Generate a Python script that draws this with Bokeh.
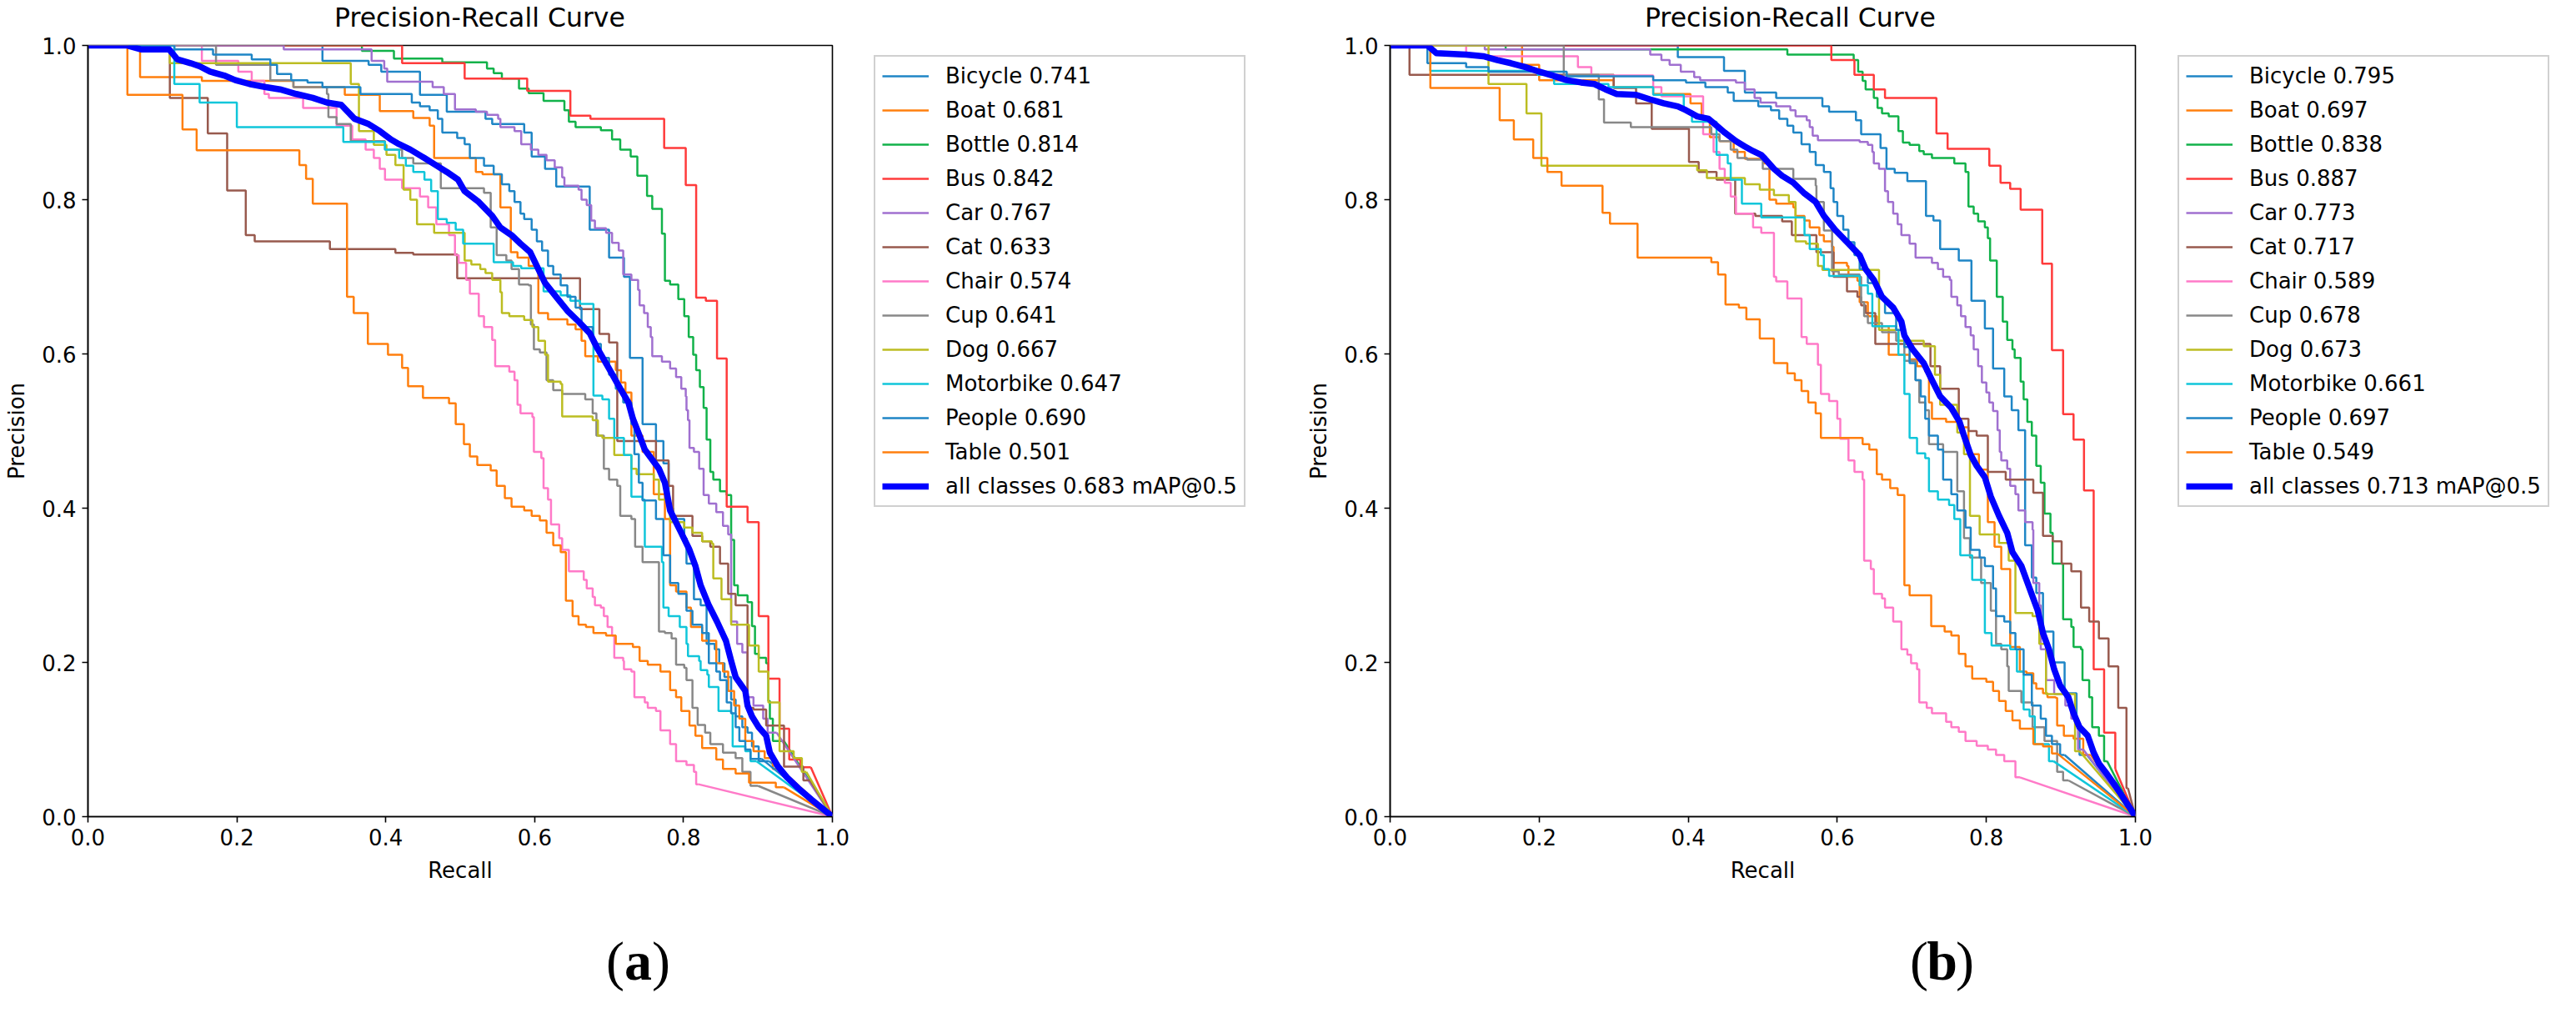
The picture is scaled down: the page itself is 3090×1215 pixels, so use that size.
from bokeh.plotting import figure
from bokeh.models import Legend, LegendItem, Label, PrintfTickFormatter, ColumnDataSource
from bokeh.layouts import row, column
from bokeh.embed import file_html
from bokeh.resources import INLINE

# ---------------- data ----------------
CLASSES = ["Bicycle", "Boat", "Bottle", "Bus", "Car", "Cat", "Chair", "Cup",
           "Dog", "Motorbike", "People", "Table"]
A_AP = [0.741, 0.681, 0.814, 0.842, 0.767, 0.633, 0.574, 0.641, 0.667, 0.647, 0.690, 0.501]
A_MAP = 0.683
B_AP = [0.795, 0.697, 0.838, 0.887, 0.773, 0.717, 0.589, 0.678, 0.673, 0.661, 0.697, 0.549]
B_MAP = 0.713
COLORS = ["#1f86c6", "#ff7f0e", "#12b24a", "#ff3b3b", "#a070d0", "#985a4e",
          "#ff7ac8", "#888888", "#bcbd22", "#10c6da", "#1f86c6", "#ff7f0e"]
ALL_COLOR = "#0000ff"
TICKS = [0.0, 0.2, 0.4, 0.6, 0.8, 1.0]
TITLE = "Precision-Recall Curve"

# (recall, precision) pairs, panel (a)
A_BICYCLE = [(0, 1.0), (0.315, 0.980), (0.377, 0.975), (0.394, 0.966), (0.446, 0.936), (0.482, 0.914),
             (0.534, 0.905), (0.543, 0.898), (0.586, 0.887), (0.596, 0.856), (0.614, 0.840), (0.629, 0.817),
             (0.674, 0.761), (0.700, 0.725), (0.720, 0.700), (0.728, 0.595), (0.745, 0.509), (0.763, 0.487),
             (0.773, 0.458), (0.780, 0.400), (0.786, 0.386), (0.801, 0.361), (0.804, 0.328), (0.814, 0.282),
             (0.823, 0.274), (0.831, 0.224), (0.842, 0.217), (0.848, 0.199), (0.855, 0.181), (0.864, 0.152),
             (0.870, 0.130), (0.879, 0.116), (0.886, 0.109), (0.892, 0.091), (0.901, 0.072), (0.915, 0.072),
             (1.0, 0.0)]
A_BOAT = [(0, 1.0), (0.070, 0.959), (0.153, 0.954), (0.276, 0.946), (0.345, 0.936), (0.392, 0.915),
          (0.437, 0.906), (0.459, 0.896), (0.465, 0.854), (0.521, 0.836), (0.530, 0.833), (0.554, 0.790),
          (0.568, 0.732), (0.577, 0.725), (0.592, 0.714), (0.605, 0.653), (0.618, 0.645), (0.644, 0.638),
          (0.655, 0.632), (0.663, 0.617), (0.668, 0.597), (0.685, 0.590), (0.709, 0.579), (0.716, 0.563),
          (0.722, 0.550), (0.730, 0.494), (0.745, 0.473), (0.760, 0.418), (0.775, 0.386), (0.782, 0.300),
          (0.790, 0.292), (0.804, 0.271), (0.810, 0.246), (0.825, 0.228), (0.844, 0.199), (0.853, 0.188),
          (0.860, 0.163), (0.868, 0.144), (0.875, 0.127), (0.883, 0.098), (0.894, 0.085), (0.909, 0.076),
          (0.920, 0.062), (0.930, 0.062), (1.0, 0.0)]
A_BOTTLE = [(0, 1.0), (0.368, 0.993), (0.411, 0.983), (0.476, 0.978), (0.536, 0.970), (0.545, 0.964),
            (0.556, 0.957), (0.579, 0.944), (0.592, 0.938), (0.612, 0.928), (0.640, 0.916), (0.646, 0.901),
            (0.655, 0.894), (0.689, 0.890), (0.704, 0.878), (0.715, 0.865), (0.729, 0.856), (0.738, 0.831),
            (0.751, 0.805), (0.758, 0.788), (0.771, 0.756), (0.775, 0.695), (0.782, 0.690), (0.793, 0.671),
            (0.801, 0.649), (0.807, 0.622), (0.813, 0.599), (0.817, 0.579), (0.822, 0.557), (0.827, 0.530),
            (0.831, 0.489), (0.836, 0.447), (0.840, 0.437), (0.849, 0.422), (0.858, 0.417), (0.864, 0.359),
            (0.868, 0.300), (0.873, 0.287), (0.886, 0.278), (0.892, 0.247), (0.896, 0.211), (0.901, 0.206),
            (0.911, 0.199), (0.914, 0.150), (0.916, 0.127), (0.920, 0.098), (0.935, 0.098), (1.0, 0.0)]
A_BUS = [(0, 1.0), (0.422, 0.977), (0.506, 0.957), (0.590, 0.941), (0.648, 0.909), (0.675, 0.905),
         (0.774, 0.867), (0.803, 0.819), (0.817, 0.673), (0.830, 0.669), (0.845, 0.594), (0.858, 0.402),
         (0.886, 0.382), (0.901, 0.260), (0.914, 0.179), (0.929, 0.114), (0.942, 0.074), (0.957, 0.064),
         (0.971, 0.064), (1.0, 0.0)]
A_CAR = [(0, 1.0), (0.263, 0.995), (0.381, 0.980), (0.398, 0.970), (0.402, 0.953), (0.463, 0.946),
         (0.478, 0.937), (0.493, 0.917), (0.521, 0.914), (0.536, 0.910), (0.551, 0.905), (0.554, 0.894),
         (0.573, 0.889), (0.582, 0.872), (0.595, 0.865), (0.605, 0.858), (0.616, 0.851), (0.627, 0.842),
         (0.637, 0.829), (0.640, 0.818), (0.659, 0.813), (0.663, 0.800), (0.670, 0.793), (0.676, 0.773),
         (0.681, 0.763), (0.696, 0.757), (0.704, 0.744), (0.713, 0.734), (0.719, 0.703), (0.730, 0.696),
         (0.739, 0.683), (0.741, 0.663), (0.747, 0.653), (0.752, 0.635), (0.756, 0.622), (0.758, 0.597),
         (0.771, 0.590), (0.782, 0.581), (0.790, 0.570), (0.797, 0.555), (0.803, 0.545), (0.804, 0.527),
         (0.806, 0.514), (0.808, 0.478), (0.814, 0.473), (0.821, 0.451), (0.827, 0.417), (0.834, 0.406),
         (0.844, 0.395), (0.853, 0.377), (0.860, 0.366), (0.864, 0.253), (0.872, 0.224), (0.879, 0.213),
         (0.886, 0.155), (0.894, 0.144), (0.907, 0.127), (0.913, 0.109), (0.925, 0.109), (1.0, 0.0)]
A_CAT = [(0, 1.0), (0.110, 0.932), (0.161, 0.886), (0.187, 0.812), (0.212, 0.754), (0.224, 0.746),
         (0.325, 0.736), (0.413, 0.731), (0.437, 0.729), (0.496, 0.698), (0.661, 0.658), (0.687, 0.626),
         (0.700, 0.615), (0.711, 0.487), (0.763, 0.462), (0.780, 0.429), (0.786, 0.390), (0.812, 0.364),
         (0.825, 0.357), (0.836, 0.350), (0.849, 0.328), (0.860, 0.289), (0.870, 0.274), (0.886, 0.141),
         (0.894, 0.139), (0.911, 0.118), (0.935, 0.065), (0.961, 0.047), (0.970, 0.047), (1.0, 0.0)]
A_CHAIR = [(0, 1.0), (0.153, 0.980), (0.202, 0.966), (0.220, 0.954), (0.237, 0.937), (0.243, 0.932),
           (0.289, 0.919), (0.334, 0.896), (0.355, 0.878), (0.373, 0.865), (0.384, 0.854), (0.392, 0.840),
           (0.399, 0.826), (0.422, 0.815), (0.446, 0.804), (0.457, 0.790), (0.468, 0.768), (0.485, 0.754),
           (0.493, 0.728), (0.498, 0.718), (0.508, 0.696), (0.513, 0.678), (0.525, 0.649), (0.532, 0.635),
           (0.543, 0.618), (0.547, 0.584), (0.566, 0.577), (0.573, 0.566), (0.577, 0.534), (0.581, 0.523),
           (0.597, 0.518), (0.599, 0.473), (0.609, 0.465), (0.612, 0.426), (0.618, 0.411), (0.622, 0.379),
           (0.633, 0.361), (0.637, 0.346), (0.646, 0.318), (0.666, 0.307), (0.670, 0.296), (0.678, 0.285),
           (0.681, 0.274), (0.689, 0.271), (0.693, 0.260), (0.698, 0.246), (0.704, 0.235), (0.707, 0.206),
           (0.719, 0.202), (0.720, 0.191), (0.730, 0.188), (0.734, 0.155), (0.748, 0.148), (0.752, 0.141),
           (0.763, 0.137), (0.769, 0.112), (0.782, 0.094), (0.790, 0.072), (0.804, 0.067), (0.814, 0.058),
           (0.817, 0.042), (0.820, 0.042), (1.0, 0.0)]
A_CUP = [(0, 1.0), (0.172, 0.975), (0.245, 0.955), (0.276, 0.946), (0.321, 0.937), (0.323, 0.907),
         (0.334, 0.898), (0.353, 0.876), (0.399, 0.865), (0.422, 0.854), (0.437, 0.847), (0.474, 0.815),
         (0.532, 0.809), (0.541, 0.764), (0.549, 0.728), (0.562, 0.721), (0.569, 0.710), (0.579, 0.690),
         (0.592, 0.689), (0.595, 0.638), (0.599, 0.606), (0.607, 0.602), (0.616, 0.566), (0.625, 0.553),
         (0.637, 0.548), (0.668, 0.541), (0.678, 0.523), (0.683, 0.494), (0.693, 0.451), (0.700, 0.437),
         (0.711, 0.429), (0.715, 0.390), (0.730, 0.386), (0.735, 0.350), (0.745, 0.330), (0.767, 0.240),
         (0.775, 0.238), (0.784, 0.231), (0.790, 0.197), (0.801, 0.193), (0.804, 0.177), (0.812, 0.141),
         (0.819, 0.119), (0.829, 0.109), (0.836, 0.094), (0.853, 0.083), (0.870, 0.076), (0.879, 0.058),
         (0.890, 0.040), (0.900, 0.040), (1.0, 0.0)]
A_DOG = [(0, 1.0), (0.110, 0.977), (0.353, 0.950), (0.364, 0.889), (0.384, 0.871), (0.401, 0.858),
         (0.413, 0.845), (0.424, 0.813), (0.433, 0.800), (0.442, 0.768), (0.465, 0.757), (0.506, 0.721),
         (0.515, 0.716), (0.527, 0.710), (0.534, 0.705), (0.543, 0.696), (0.554, 0.680), (0.556, 0.653),
         (0.566, 0.649), (0.586, 0.644), (0.597, 0.635), (0.605, 0.617), (0.614, 0.599), (0.618, 0.564),
         (0.635, 0.561), (0.637, 0.519), (0.678, 0.514), (0.685, 0.494), (0.691, 0.491), (0.707, 0.469),
         (0.730, 0.451), (0.737, 0.444), (0.760, 0.437), (0.767, 0.411), (0.782, 0.382), (0.801, 0.375),
         (0.812, 0.368), (0.825, 0.357), (0.838, 0.354), (0.840, 0.309), (0.851, 0.282), (0.864, 0.249),
         (0.888, 0.222), (0.901, 0.188), (0.914, 0.148), (0.929, 0.085), (0.948, 0.076), (0.959, 0.058),
         (0.965, 0.058), (1.0, 0.0)]
A_MOTORBIKE = [(0, 1.0), (0.116, 0.950), (0.150, 0.926), (0.200, 0.894), (0.343, 0.875), (0.399, 0.865),
               (0.418, 0.854), (0.427, 0.844), (0.437, 0.836), (0.452, 0.826), (0.461, 0.811), (0.470, 0.775),
               (0.482, 0.770), (0.494, 0.761), (0.504, 0.743), (0.545, 0.719), (0.571, 0.714), (0.582, 0.711),
               (0.612, 0.681), (0.635, 0.676), (0.648, 0.669), (0.661, 0.665), (0.679, 0.546), (0.691, 0.541),
               (0.700, 0.516), (0.707, 0.491), (0.720, 0.469), (0.730, 0.415), (0.745, 0.411), (0.748, 0.350),
               (0.771, 0.330), (0.773, 0.271), (0.780, 0.260), (0.795, 0.246), (0.804, 0.224), (0.806, 0.208),
               (0.821, 0.202), (0.823, 0.190), (0.832, 0.184), (0.834, 0.168), (0.847, 0.137), (0.864, 0.134),
               (0.866, 0.091), (0.883, 0.085), (0.890, 0.072), (0.898, 0.072), (1.0, 0.0)]
A_PEOPLE = [(0, 1.0), (0.116, 0.995), (0.168, 0.988), (0.220, 0.982), (0.245, 0.975), (0.254, 0.963),
            (0.273, 0.955), (0.295, 0.952), (0.315, 0.946), (0.366, 0.937), (0.435, 0.926), (0.446, 0.921),
            (0.459, 0.916), (0.470, 0.905), (0.476, 0.887), (0.496, 0.880), (0.506, 0.872), (0.513, 0.854),
            (0.532, 0.844), (0.545, 0.833), (0.556, 0.820), (0.566, 0.811), (0.573, 0.797), (0.581, 0.782),
            (0.586, 0.775), (0.596, 0.761), (0.603, 0.746), (0.610, 0.734), (0.618, 0.714), (0.625, 0.703),
            (0.635, 0.689), (0.644, 0.674), (0.655, 0.660), (0.663, 0.635), (0.678, 0.613), (0.689, 0.595),
            (0.700, 0.573), (0.709, 0.555), (0.719, 0.537), (0.730, 0.509), (0.734, 0.470), (0.740, 0.433),
            (0.745, 0.410), (0.763, 0.386), (0.773, 0.339), (0.782, 0.303), (0.793, 0.289), (0.804, 0.267),
            (0.812, 0.249), (0.825, 0.238), (0.834, 0.199), (0.844, 0.188), (0.849, 0.177), (0.858, 0.148),
            (0.864, 0.134), (0.870, 0.116), (0.875, 0.098), (0.883, 0.087), (0.890, 0.075), (0.905, 0.075),
            (1.0, 0.0)]
A_TABLE = [(0, 1.0), (0.053, 0.936), (0.127, 0.891), (0.146, 0.864), (0.284, 0.845), (0.293, 0.827),
           (0.302, 0.795), (0.348, 0.674), (0.357, 0.653), (0.376, 0.613), (0.403, 0.599), (0.422, 0.582),
           (0.430, 0.558), (0.450, 0.543), (0.485, 0.536), (0.494, 0.509), (0.505, 0.483), (0.513, 0.467),
           (0.523, 0.456), (0.541, 0.449), (0.549, 0.429), (0.560, 0.413), (0.569, 0.402), (0.586, 0.397),
           (0.596, 0.390), (0.607, 0.384), (0.616, 0.368), (0.625, 0.352), (0.635, 0.343), (0.642, 0.280),
           (0.651, 0.260), (0.659, 0.249), (0.669, 0.246), (0.679, 0.238), (0.696, 0.235), (0.709, 0.224),
           (0.732, 0.220), (0.741, 0.202), (0.752, 0.197), (0.769, 0.188), (0.782, 0.164), (0.790, 0.155),
           (0.797, 0.137), (0.808, 0.118), (0.816, 0.105), (0.825, 0.089), (0.844, 0.074), (0.853, 0.062),
           (0.870, 0.056), (0.888, 0.044), (0.924, 0.038), (0.935, 0.038), (1.0, 0.0)]
A_ALL = [(0, 1.0), (0.052, 1.0), (0.071, 0.995), (0.109, 0.995), (0.120, 0.982), (0.138, 0.977),
         (0.150, 0.973), (0.164, 0.966), (0.183, 0.961), (0.198, 0.955), (0.217, 0.950), (0.239, 0.946),
         (0.258, 0.943), (0.280, 0.937), (0.302, 0.932), (0.321, 0.926), (0.340, 0.923), (0.347, 0.916),
         (0.358, 0.905), (0.377, 0.898), (0.392, 0.889), (0.407, 0.878), (0.418, 0.872), (0.433, 0.865),
         (0.452, 0.854), (0.467, 0.845), (0.482, 0.836), (0.497, 0.826), (0.506, 0.811), (0.525, 0.797),
         (0.543, 0.779), (0.554, 0.764), (0.569, 0.754), (0.581, 0.743), (0.594, 0.732), (0.603, 0.714),
         (0.614, 0.692), (0.629, 0.674), (0.644, 0.656), (0.659, 0.642), (0.674, 0.627), (0.685, 0.606),
         (0.700, 0.581), (0.715, 0.555), (0.726, 0.537), (0.732, 0.516), (0.741, 0.494), (0.748, 0.476),
         (0.767, 0.451), (0.775, 0.433), (0.782, 0.397), (0.797, 0.368), (0.808, 0.346), (0.816, 0.325),
         (0.823, 0.300), (0.834, 0.274), (0.845, 0.253), (0.857, 0.228), (0.864, 0.202), (0.870, 0.181),
         (0.883, 0.163), (0.886, 0.144), (0.892, 0.130), (0.901, 0.116), (0.911, 0.105), (0.916, 0.083),
         (0.927, 0.065), (0.939, 0.051), (0.954, 0.037), (0.972, 0.022), (1.0, 0.0)]

# (recall, precision) pairs, panel (b)
B_BICYCLE = [(0, 1.0), (0.386, 0.985), (0.448, 0.967), (0.476, 0.939), (0.518, 0.932), (0.580, 0.921),
             (0.589, 0.914), (0.625, 0.903), (0.632, 0.885), (0.658, 0.867), (0.666, 0.840), (0.677, 0.835),
             (0.694, 0.824), (0.719, 0.779), (0.729, 0.773), (0.738, 0.736), (0.763, 0.721), (0.780, 0.669),
             (0.798, 0.633), (0.809, 0.581), (0.824, 0.545), (0.834, 0.527), (0.843, 0.501), (0.852, 0.352),
             (0.861, 0.310), (0.867, 0.290), (0.876, 0.240), (0.890, 0.200), (0.905, 0.160), (0.921, 0.120),
             (0.925, 0.080), (0.935, 0.080), (1.0, 0.0)]
B_BOAT = [(0, 1.0), (0.177, 0.975), (0.200, 0.955), (0.300, 0.946), (0.353, 0.937), (0.403, 0.925),
          (0.418, 0.905), (0.429, 0.881), (0.442, 0.876), (0.461, 0.862), (0.476, 0.853), (0.502, 0.847),
          (0.509, 0.800), (0.518, 0.795), (0.541, 0.790), (0.544, 0.779), (0.556, 0.773), (0.563, 0.764),
          (0.576, 0.754), (0.582, 0.746), (0.593, 0.739), (0.595, 0.718), (0.613, 0.714), (0.615, 0.700),
          (0.627, 0.695), (0.630, 0.667), (0.641, 0.649), (0.653, 0.636), (0.669, 0.599), (0.697, 0.593),
          (0.707, 0.584), (0.718, 0.577), (0.723, 0.537), (0.727, 0.516), (0.746, 0.512), (0.764, 0.505),
          (0.776, 0.470), (0.790, 0.450), (0.802, 0.382), (0.811, 0.350), (0.820, 0.321), (0.832, 0.220),
          (0.845, 0.188), (0.854, 0.186), (0.863, 0.173), (0.867, 0.166), (0.876, 0.160), (0.882, 0.155),
          (0.893, 0.154), (0.895, 0.118), (0.904, 0.105), (0.917, 0.101), (0.930, 0.080), (0.940, 0.080),
          (1.0, 0.0)]
B_BOTTLE = [(0, 1.0), (0.155, 0.995), (0.533, 0.988), (0.622, 0.981), (0.628, 0.966), (0.634, 0.954),
            (0.638, 0.943), (0.649, 0.932), (0.654, 0.919), (0.660, 0.912), (0.669, 0.908), (0.682, 0.889),
            (0.688, 0.874), (0.697, 0.871), (0.710, 0.863), (0.716, 0.859), (0.727, 0.854), (0.757, 0.847),
            (0.772, 0.836), (0.776, 0.791), (0.783, 0.782), (0.789, 0.772), (0.798, 0.764), (0.802, 0.750),
            (0.805, 0.721), (0.814, 0.674), (0.822, 0.642), (0.828, 0.618), (0.835, 0.606), (0.838, 0.595),
            (0.846, 0.564), (0.850, 0.541), (0.855, 0.512), (0.861, 0.494), (0.867, 0.455), (0.873, 0.433),
            (0.878, 0.393), (0.886, 0.368), (0.889, 0.328), (0.903, 0.256), (0.914, 0.246), (0.917, 0.220),
            (0.927, 0.217), (0.929, 0.177), (0.938, 0.155), (0.942, 0.116), (0.951, 0.105), (0.958, 0.072),
            (0.962, 0.072), (1.0, 0.0)]
B_BUS = [(0, 1.0), (0.592, 0.981), (0.623, 0.962), (0.649, 0.943), (0.664, 0.932), (0.733, 0.886),
         (0.748, 0.866), (0.804, 0.844), (0.819, 0.822), (0.832, 0.814), (0.846, 0.787), (0.875, 0.717),
         (0.888, 0.605), (0.903, 0.522), (0.917, 0.489), (0.931, 0.423), (0.944, 0.191), (0.958, 0.109),
         (0.973, 0.062), (1.0, 0.0)]
B_CAR = [(0, 1.0), (0.127, 0.995), (0.349, 0.988), (0.364, 0.981), (0.375, 0.975), (0.390, 0.966),
         (0.408, 0.959), (0.416, 0.955), (0.464, 0.952), (0.476, 0.943), (0.489, 0.932), (0.497, 0.926),
         (0.518, 0.921), (0.537, 0.916), (0.544, 0.908), (0.559, 0.903), (0.563, 0.894), (0.567, 0.883),
         (0.574, 0.877), (0.630, 0.875), (0.641, 0.871), (0.647, 0.862), (0.649, 0.847), (0.656, 0.840),
         (0.664, 0.811), (0.668, 0.797), (0.675, 0.782), (0.681, 0.768), (0.686, 0.754), (0.697, 0.743),
         (0.705, 0.725), (0.727, 0.718), (0.735, 0.710), (0.742, 0.700), (0.751, 0.696), (0.753, 0.674),
         (0.761, 0.663), (0.766, 0.649), (0.772, 0.635), (0.779, 0.624), (0.783, 0.606), (0.789, 0.584),
         (0.794, 0.563), (0.800, 0.550), (0.804, 0.537), (0.809, 0.526), (0.815, 0.501), (0.818, 0.473),
         (0.820, 0.462), (0.828, 0.451), (0.832, 0.429), (0.839, 0.418), (0.843, 0.397), (0.852, 0.382),
         (0.862, 0.372), (0.863, 0.303), (0.871, 0.274), (0.873, 0.217), (0.880, 0.177), (0.891, 0.159),
         (0.906, 0.144), (0.914, 0.127), (0.921, 0.119), (0.923, 0.087), (0.930, 0.087), (1.0, 0.0)]
B_CAT = [(0, 1.0), (0.026, 0.962), (0.300, 0.945), (0.330, 0.925), (0.351, 0.892), (0.401, 0.849),
         (0.414, 0.836), (0.438, 0.826), (0.463, 0.782), (0.490, 0.779), (0.526, 0.772), (0.539, 0.754),
         (0.572, 0.732), (0.595, 0.700), (0.613, 0.681), (0.627, 0.674), (0.632, 0.663), (0.638, 0.653),
         (0.651, 0.613), (0.725, 0.584), (0.738, 0.555), (0.763, 0.516), (0.776, 0.500), (0.787, 0.494),
         (0.802, 0.447), (0.826, 0.437), (0.863, 0.420), (0.876, 0.364), (0.889, 0.357), (0.901, 0.328),
         (0.914, 0.318), (0.927, 0.271), (0.938, 0.253), (0.951, 0.231), (0.964, 0.195), (0.977, 0.141),
         (0.988, 0.037), (0.990, 0.037), (1.0, 0.0)]
B_CHAIR = [(0, 1.0), (0.102, 0.986), (0.252, 0.972), (0.270, 0.961), (0.353, 0.946), (0.364, 0.934),
           (0.420, 0.885), (0.434, 0.862), (0.442, 0.840), (0.449, 0.822), (0.457, 0.804), (0.464, 0.782),
           (0.487, 0.764), (0.498, 0.757), (0.515, 0.700), (0.518, 0.694), (0.533, 0.672), (0.552, 0.622),
           (0.559, 0.613), (0.574, 0.586), (0.578, 0.548), (0.589, 0.539), (0.600, 0.516), (0.604, 0.490),
           (0.615, 0.462), (0.623, 0.447), (0.634, 0.437), (0.636, 0.332), (0.645, 0.321), (0.649, 0.289),
           (0.660, 0.283), (0.664, 0.271), (0.675, 0.253), (0.686, 0.217), (0.694, 0.210), (0.699, 0.199),
           (0.707, 0.191), (0.710, 0.148), (0.720, 0.141), (0.727, 0.134), (0.746, 0.123), (0.753, 0.116),
           (0.763, 0.110), (0.772, 0.098), (0.787, 0.092), (0.802, 0.087), (0.813, 0.080), (0.824, 0.072),
           (0.839, 0.051), (0.845, 0.051), (1.0, 0.0)]
B_CUP = [(0, 1.0), (0.233, 0.962), (0.280, 0.930), (0.287, 0.900), (0.323, 0.894), (0.431, 0.885),
         (0.442, 0.876), (0.457, 0.865), (0.466, 0.854), (0.479, 0.852), (0.500, 0.840), (0.541, 0.827),
         (0.571, 0.818), (0.572, 0.797), (0.582, 0.760), (0.593, 0.707), (0.602, 0.703), (0.630, 0.700),
         (0.632, 0.667), (0.636, 0.649), (0.641, 0.640), (0.660, 0.628), (0.679, 0.617), (0.690, 0.591),
         (0.705, 0.566), (0.710, 0.537), (0.718, 0.527), (0.723, 0.483), (0.742, 0.473), (0.761, 0.422),
         (0.770, 0.361), (0.778, 0.336), (0.793, 0.303), (0.806, 0.267), (0.813, 0.224), (0.820, 0.217),
         (0.828, 0.195), (0.830, 0.163), (0.847, 0.148), (0.862, 0.116), (0.878, 0.098), (0.895, 0.058),
         (0.903, 0.047), (0.910, 0.047), (1.0, 0.0)]
B_DOG = [(0, 1.0), (0.132, 0.950), (0.183, 0.912), (0.203, 0.844), (0.412, 0.838), (0.425, 0.828),
         (0.476, 0.820), (0.496, 0.813), (0.515, 0.806), (0.535, 0.797), (0.544, 0.746), (0.558, 0.743),
         (0.574, 0.714), (0.580, 0.709), (0.656, 0.631), (0.682, 0.617), (0.716, 0.610), (0.731, 0.573),
         (0.738, 0.534), (0.761, 0.498), (0.770, 0.470), (0.778, 0.390), (0.791, 0.366), (0.817, 0.355),
         (0.830, 0.332), (0.839, 0.264), (0.862, 0.260), (0.871, 0.224), (0.880, 0.159), (0.919, 0.085),
         (0.925, 0.085), (1.0, 0.0)]
B_MOTORBIKE = [(0, 1.0), (0.054, 0.967), (0.198, 0.962), (0.220, 0.950), (0.293, 0.946), (0.353, 0.936),
               (0.394, 0.915), (0.405, 0.901), (0.438, 0.858), (0.453, 0.847), (0.457, 0.826), (0.472, 0.795),
               (0.498, 0.777), (0.556, 0.754), (0.563, 0.736), (0.578, 0.728), (0.582, 0.710), (0.589, 0.701),
               (0.630, 0.689), (0.641, 0.678), (0.647, 0.636), (0.679, 0.631), (0.682, 0.599), (0.690, 0.548),
               (0.697, 0.491), (0.707, 0.471), (0.718, 0.465), (0.723, 0.422), (0.735, 0.411), (0.750, 0.404),
               (0.757, 0.386), (0.765, 0.339), (0.781, 0.307), (0.798, 0.238), (0.807, 0.222), (0.832, 0.217),
               (0.841, 0.188), (0.850, 0.139), (0.858, 0.130), (0.865, 0.094), (0.884, 0.072), (0.890, 0.072),
               (1.0, 0.0)]
B_PEOPLE = [(0, 1.0), (0.050, 0.977), (0.102, 0.972), (0.132, 0.966), (0.237, 0.960), (0.353, 0.955),
            (0.397, 0.952), (0.423, 0.946), (0.453, 0.939), (0.461, 0.928), (0.494, 0.921), (0.511, 0.916),
            (0.522, 0.905), (0.533, 0.896), (0.541, 0.887), (0.552, 0.872), (0.563, 0.862), (0.571, 0.845),
            (0.582, 0.836), (0.591, 0.815), (0.595, 0.797), (0.600, 0.779), (0.608, 0.761), (0.615, 0.745),
            (0.623, 0.728), (0.630, 0.710), (0.641, 0.692), (0.653, 0.674), (0.664, 0.653), (0.679, 0.631),
            (0.690, 0.609), (0.697, 0.588), (0.705, 0.566), (0.712, 0.545), (0.718, 0.516), (0.723, 0.494),
            (0.735, 0.476), (0.742, 0.437), (0.753, 0.418), (0.761, 0.397), (0.772, 0.375), (0.779, 0.346),
            (0.791, 0.336), (0.798, 0.325), (0.809, 0.296), (0.813, 0.260), (0.824, 0.253), (0.832, 0.238),
            (0.839, 0.217), (0.850, 0.184), (0.861, 0.144), (0.873, 0.127), (0.880, 0.105), (0.888, 0.094),
            (0.899, 0.080), (0.905, 0.080), (1.0, 0.0)]
B_TABLE = [(0, 1.0), (0.054, 0.945), (0.147, 0.903), (0.166, 0.878), (0.192, 0.854), (0.211, 0.836),
           (0.230, 0.818), (0.285, 0.783), (0.295, 0.769), (0.332, 0.725), (0.431, 0.719), (0.440, 0.703),
           (0.450, 0.664), (0.468, 0.660), (0.478, 0.645), (0.496, 0.620), (0.515, 0.588), (0.533, 0.575),
           (0.543, 0.566), (0.552, 0.552), (0.561, 0.537), (0.571, 0.523), (0.578, 0.491), (0.634, 0.483),
           (0.643, 0.476), (0.653, 0.444), (0.660, 0.437), (0.671, 0.426), (0.681, 0.417), (0.690, 0.300),
           (0.697, 0.287), (0.726, 0.247), (0.744, 0.240), (0.753, 0.235), (0.763, 0.211), (0.772, 0.195),
           (0.781, 0.179), (0.800, 0.175), (0.809, 0.163), (0.817, 0.150), (0.826, 0.137), (0.835, 0.125),
           (0.845, 0.114), (0.863, 0.094), (0.876, 0.091), (0.888, 0.082), (0.895, 0.082), (1.0, 0.0)]
B_ALL = [(0, 1.0), (0.050, 1.0), (0.062, 0.990), (0.102, 0.988), (0.125, 0.986), (0.144, 0.981),
         (0.162, 0.977), (0.181, 0.972), (0.200, 0.966), (0.218, 0.961), (0.237, 0.955), (0.256, 0.952),
         (0.274, 0.950), (0.289, 0.943), (0.304, 0.937), (0.330, 0.936), (0.349, 0.930), (0.367, 0.925),
         (0.386, 0.921), (0.397, 0.916), (0.412, 0.908), (0.427, 0.905), (0.438, 0.896), (0.449, 0.887),
         (0.464, 0.876), (0.476, 0.869), (0.487, 0.863), (0.498, 0.858), (0.503, 0.853), (0.515, 0.840),
         (0.526, 0.831), (0.541, 0.822), (0.556, 0.808), (0.571, 0.797), (0.582, 0.779), (0.597, 0.761),
         (0.615, 0.743), (0.630, 0.728), (0.638, 0.710), (0.649, 0.696), (0.660, 0.674), (0.675, 0.660),
         (0.686, 0.642), (0.690, 0.624), (0.701, 0.606), (0.716, 0.588), (0.727, 0.566), (0.738, 0.545),
         (0.753, 0.530), (0.764, 0.512), (0.770, 0.494), (0.779, 0.469), (0.787, 0.455), (0.798, 0.440),
         (0.806, 0.415), (0.817, 0.390), (0.828, 0.368), (0.835, 0.343), (0.847, 0.325), (0.858, 0.296),
         (0.869, 0.267), (0.876, 0.238), (0.884, 0.217), (0.891, 0.191), (0.899, 0.170), (0.910, 0.155),
         (0.917, 0.134), (0.925, 0.116), (0.936, 0.105), (0.944, 0.083), (0.951, 0.069), (0.962, 0.055),
         (0.973, 0.040), (0.988, 0.018), (1.0, 0.0)]

A_CURVES = [A_BICYCLE, A_BOAT, A_BOTTLE, A_BUS, A_CAR, A_CAT, A_CHAIR, A_CUP, A_DOG, A_MOTORBIKE, A_PEOPLE, A_TABLE]
B_CURVES = [B_BICYCLE, B_BOAT, B_BOTTLE, B_BUS, B_CAR, B_CAT, B_CHAIR, B_CUP, B_DOG, B_MOTORBIKE, B_PEOPLE, B_TABLE]

# ---------------- layout (pixels) ----------------
FONT = "DejaVu Sans"
SERIF = "Liberation Serif"
TITLE_H = 38        # strip above each plot holding its title (page y 8..46)
PLOT_TOP = 16       # room above the frame for the top tick label (frame top at page y 62)
FRAME_H = 925
PLOT_H = 1051       # plot figure height (page y 46..1097)
CAP_H = 110         # strip holding the (a)/(b) caption (page y 1097..1207)
LINE_W = 2.5
ALL_W = 7.5


def xs(pts):
    return [a for a, _ in pts]


def ys(pts):
    return [b for _, b in pts]


def blank(width, height):
    f = figure(width=width, height=height, output_backend="svg", toolbar_location=None,
               x_range=(0, 1), y_range=(0, 1), x_axis_location=None, y_axis_location=None,
               min_border_left=0, min_border_right=0, min_border_top=0, min_border_bottom=0)
    f.outline_line_color = None
    f.grid.visible = False
    return f


def make_title(width, left_border, frame_w):
    t = blank(width, TITLE_H)
    t.add_layout(Label(x=(left_border + frame_w / 2) / width, y=1 - 20 / TITLE_H, text=TITLE,
                       text_align="center", text_baseline="middle",
                       text_font=FONT, text_font_size="31.5px", text_color="black"))
    return t


def make_caption(width, cx, letter):
    c = blank(width, CAP_H)
    yc = 1 - 63 / CAP_H
    common = dict(x=cx, y=yc, text_baseline="middle", text_font=SERIF,
                  text_font_size="66px", text_color="black")
    c.add_layout(Label(text="(", text_align="right", x_offset=-16.5, **common))
    c.add_layout(Label(text=letter, text_align="center", text_font_style="bold", **common))
    c.add_layout(Label(text=")", text_align="left", x_offset=16.5, **common))
    return c


def make_panel(curves, all_curve, left_border, frame_w, right_border):
    p = figure(width=left_border + frame_w + right_border, height=PLOT_H, x_range=(0, 1), y_range=(0, 1),
               output_backend="svg", toolbar_location=None,
               min_border_left=left_border, min_border_right=right_border,
               min_border_top=PLOT_TOP, min_border_bottom=PLOT_H - PLOT_TOP - FRAME_H)
    p.xgrid.visible = False
    p.ygrid.visible = False
    p.outline_line_color = "black"
    p.outline_line_width = 1.6
    p.outline_line_alpha = 1.0
    for ax in (p.xaxis[0], p.yaxis[0]):
        ax.ticker = TICKS
        ax.formatter = PrintfTickFormatter(format="%.1f")
        ax.minor_tick_line_color = None
        ax.major_tick_in = 0
        ax.major_tick_out = 7
        ax.major_tick_line_width = 1.6
        ax.axis_line_width = 1.6
        ax.major_label_text_font = FONT
        ax.major_label_text_font_size = "26px"
        ax.major_label_text_color = "black"
        ax.axis_label_text_font = FONT
        ax.axis_label_text_font_size = "26px"
        ax.axis_label_text_font_style = "normal"
        ax.axis_label_text_color = "black"
    p.xaxis.axis_label = "Recall"
    p.yaxis.axis_label = "Precision"
    p.xaxis.major_label_standoff = 7
    p.yaxis.major_label_standoff = 7
    p.xaxis.axis_label_standoff = 12
    p.yaxis.axis_label_standoff = 12

    for color, pts in zip(COLORS, curves):
        step_pts = pts[:-1]
        src = ColumnDataSource(dict(r=xs(step_pts), pr=ys(step_pts)))
        p.step(x="r", y="pr", source=src, mode="after", line_color=color, line_width=LINE_W)
        tail = pts[-2:]
        p.line(x=xs(tail), y=ys(tail), line_color=color, line_width=LINE_W)
    p.line(x=xs(all_curve), y=ys(all_curve), line_color=ALL_COLOR, line_width=ALL_W, line_join="round")
    return p


def make_legend(curves, all_curve, aps, map_all, width, top):
    # a frame that only hosts the legend; its view window lies away from the curves,
    # so the curve renderers here serve as legend glyph sources only
    lf = figure(width=width, height=TITLE_H + PLOT_H, output_backend="svg", toolbar_location=None,
                x_range=(2, 3), y_range=(2, 3),
                x_axis_location=None, y_axis_location=None,
                min_border_left=0, min_border_right=0, min_border_top=top, min_border_bottom=0)
    lf.outline_line_color = None
    lf.grid.visible = False
    items = []
    for name, ap, color, pts in zip(CLASSES, aps, COLORS, curves):
        r = lf.line(x=xs(pts), y=ys(pts), line_color=color, line_width=LINE_W)
        items.append(LegendItem(label=f"{name} {ap:.3f}", renderers=[r]))
    r_all = lf.line(x=xs(all_curve), y=ys(all_curve), line_color=ALL_COLOR, line_width=ALL_W)
    items.append(LegendItem(label=f"all classes {map_all:.3f} mAP@0.5", renderers=[r_all]))
    legend = Legend(items=items, location="top_left", margin=0, padding=8, spacing=11,
                    glyph_width=56, glyph_height=20, label_standoff=20,
                    label_text_font=FONT, label_text_font_size="26px", label_text_color="black",
                    border_line_color="#d0d0d0", border_line_width=2, border_line_alpha=1.0,
                    background_fill_color="white", background_fill_alpha=0.8)
    lf.add_layout(legend, "center")
    return lf


# page x: panel (a) frame 113..1006, legend at 1056; panel (b) starts 1545, frame 1675..2569, legend at 2620
PA_W = 105 + 893 + 50
PB_W = 130 + 894 + 51
sub_a = column(
    row(column(make_title(PA_W, 105, 893), make_panel(A_CURVES, A_ALL, 105, 893, 50)),
        make_legend(A_CURVES, A_ALL, A_AP, A_MAP, 489, 66)),
    make_caption(PA_W + 489, (773 - 8) / (PA_W + 489), "a"))
sub_b = column(
    row(column(make_title(PB_W, 130, 894), make_panel(B_CURVES, B_ALL, 130, 894, 51)),
        make_legend(B_CURVES, B_ALL, B_AP, B_MAP, 462, 66)),
    make_caption(PB_W + 462, (2337 - 1545) / (PB_W + 462), "b"))

layout = row(sub_a, sub_b)
with open("out.html", "w") as f:
    f.write(file_html(layout, INLINE))
